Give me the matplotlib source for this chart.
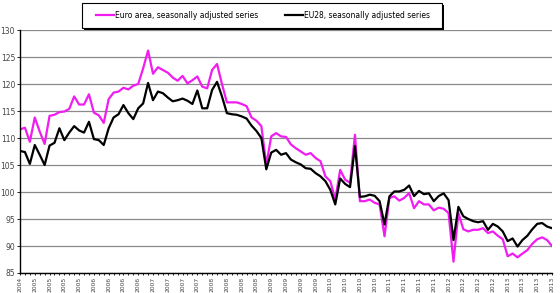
import matplotlib.pyplot as plt
from matplotlib.patches import Rectangle
import numpy as np

# monthly series, Oct 2004 - Oct 2013
euro_area = [111.6, 111.9, 109.3, 113.8, 111.2, 108.9, 114.1, 114.3, 114.8, 114.9,
             115.4, 117.7, 116.2, 116.2, 118.1, 114.7, 114.2, 112.8, 117.2, 118.4,
             118.6, 119.3, 119.0, 119.7, 120.0, 122.9, 126.2, 121.9, 123.1, 122.6,
             122.1, 121.2, 120.6, 121.5, 120.1, 120.7, 121.4, 119.5, 119.2, 122.6,
             123.7, 120.0, 116.6, 116.6, 116.6, 116.3, 115.9, 113.8, 113.2, 112.2,
             105.0, 110.3, 110.9, 110.3, 110.2, 108.8, 108.1, 107.5, 106.9, 107.2,
             106.3, 105.7, 102.9, 102.0, 98.6, 104.1, 102.3, 101.7, 110.6, 98.3,
             98.3, 98.6, 98.0, 97.7, 91.8, 98.9, 99.2, 98.4, 98.9, 99.8,
             97.0, 98.3, 97.7, 97.7, 96.6, 97.1, 96.9, 96.1, 87.1, 96.1,
             93.1, 92.7, 93.0, 93.0, 93.3, 92.4, 92.7, 91.9, 91.25, 88.1,
             88.6, 87.9, 88.6, 89.25, 90.4, 91.25, 91.6, 91.1, 90.0]

eu28 = [107.6, 107.4, 105.2, 108.7, 106.9, 105.0, 108.6, 109.1, 111.8, 109.6,
        111.0, 112.2, 111.4, 111.0, 113.0, 109.8, 109.6, 108.7, 111.8, 113.8,
        114.4, 116.1, 114.6, 113.5, 115.5, 116.4, 120.2, 117.0, 118.6, 118.3,
        117.5, 116.8, 117.0, 117.3, 116.9, 116.3, 118.8, 115.5, 115.5, 118.9,
        120.4, 117.7, 114.6, 114.4, 114.3, 114.0, 113.6, 112.3, 111.3, 110.0,
        104.2, 107.3, 107.8, 106.9, 107.2, 106.0, 105.5, 105.1, 104.4, 104.3,
        103.5, 102.9, 102.0, 100.4, 97.7, 102.5, 101.5, 100.9, 108.5, 99.1,
        99.2, 99.5, 99.3, 98.3, 94.0, 99.2, 100.1, 100.1, 100.4, 101.2,
        99.25, 100.2, 99.6, 99.75, 98.3, 99.25, 99.75, 98.5, 91.1, 97.25,
        95.5, 95.0, 94.6, 94.4, 94.6, 93.0, 94.1, 93.6, 92.7, 90.9,
        91.4, 89.9, 91.1, 91.9, 93.1, 94.1, 94.25, 93.6, 93.3]

# year of each month (first month is October 2004)
years = [str(2004 + (9 + k) // 12) for k in range(len(euro_area))]

x = np.arange(len(euro_area))

fig = plt.figure(figsize=(5.6, 2.93), dpi=100)
ax = fig.add_axes([20 / 560, 20 / 293, 532 / 560, 243 / 293])

l1, = ax.plot(x, euro_area, color='#f01cf0', lw=1.6, label='Euro area, seasonally adjusted series')
l2, = ax.plot(x, eu28, color='black', lw=1.6, label='EU28, seasonally adjusted series')

ax.set_xlim(0, len(x) - 1)
ax.set_ylim(85, 130)
ax.set_yticks(np.arange(85, 131, 5))
ax.yaxis.grid(True, color='#8a8a8a', lw=0.9)
ax.set_axisbelow(True)

ax.set_xticks(x[::3])
ax.set_xticklabels(years[::3], rotation=90, fontsize=4.3, color='#444444')
ax.set_xticks(x, minor=True)
ax.tick_params(axis='x', which='both', length=1.5, width=0.6, pad=1)
ax.tick_params(axis='y', length=2, width=0.6, labelsize=5.5, labelcolor='#444444', pad=1.5)

for s in ['top', 'right']:
    ax.spines[s].set_visible(False)
for s in ['left', 'bottom']:
    ax.spines[s].set_linewidth(1.0)

# legend box with a hard shadow
bx0, bx1, by0, by1 = 82, 442, 265, 290
fig.patches.append(Rectangle(((bx0 + 2) / 560, (by0 - 2) / 293), (bx1 - bx0) / 560, (by1 - by0) / 293,
                             transform=fig.transFigure, facecolor='black', edgecolor='none'))
fig.patches.append(Rectangle((bx0 / 560, by0 / 293), (bx1 - bx0) / 560, (by1 - by0) / 293,
                             transform=fig.transFigure, facecolor='white', edgecolor='black', lw=0.8))
fig.legend(handles=[l1, l2], loc='center', bbox_to_anchor=(263 / 560, 277.5 / 293),
           ncol=2, frameon=False, fontsize=5.5, handlelength=2.3, handletextpad=0.1,
           columnspacing=3.6)

plt.savefig('out.png', dpi=100)
